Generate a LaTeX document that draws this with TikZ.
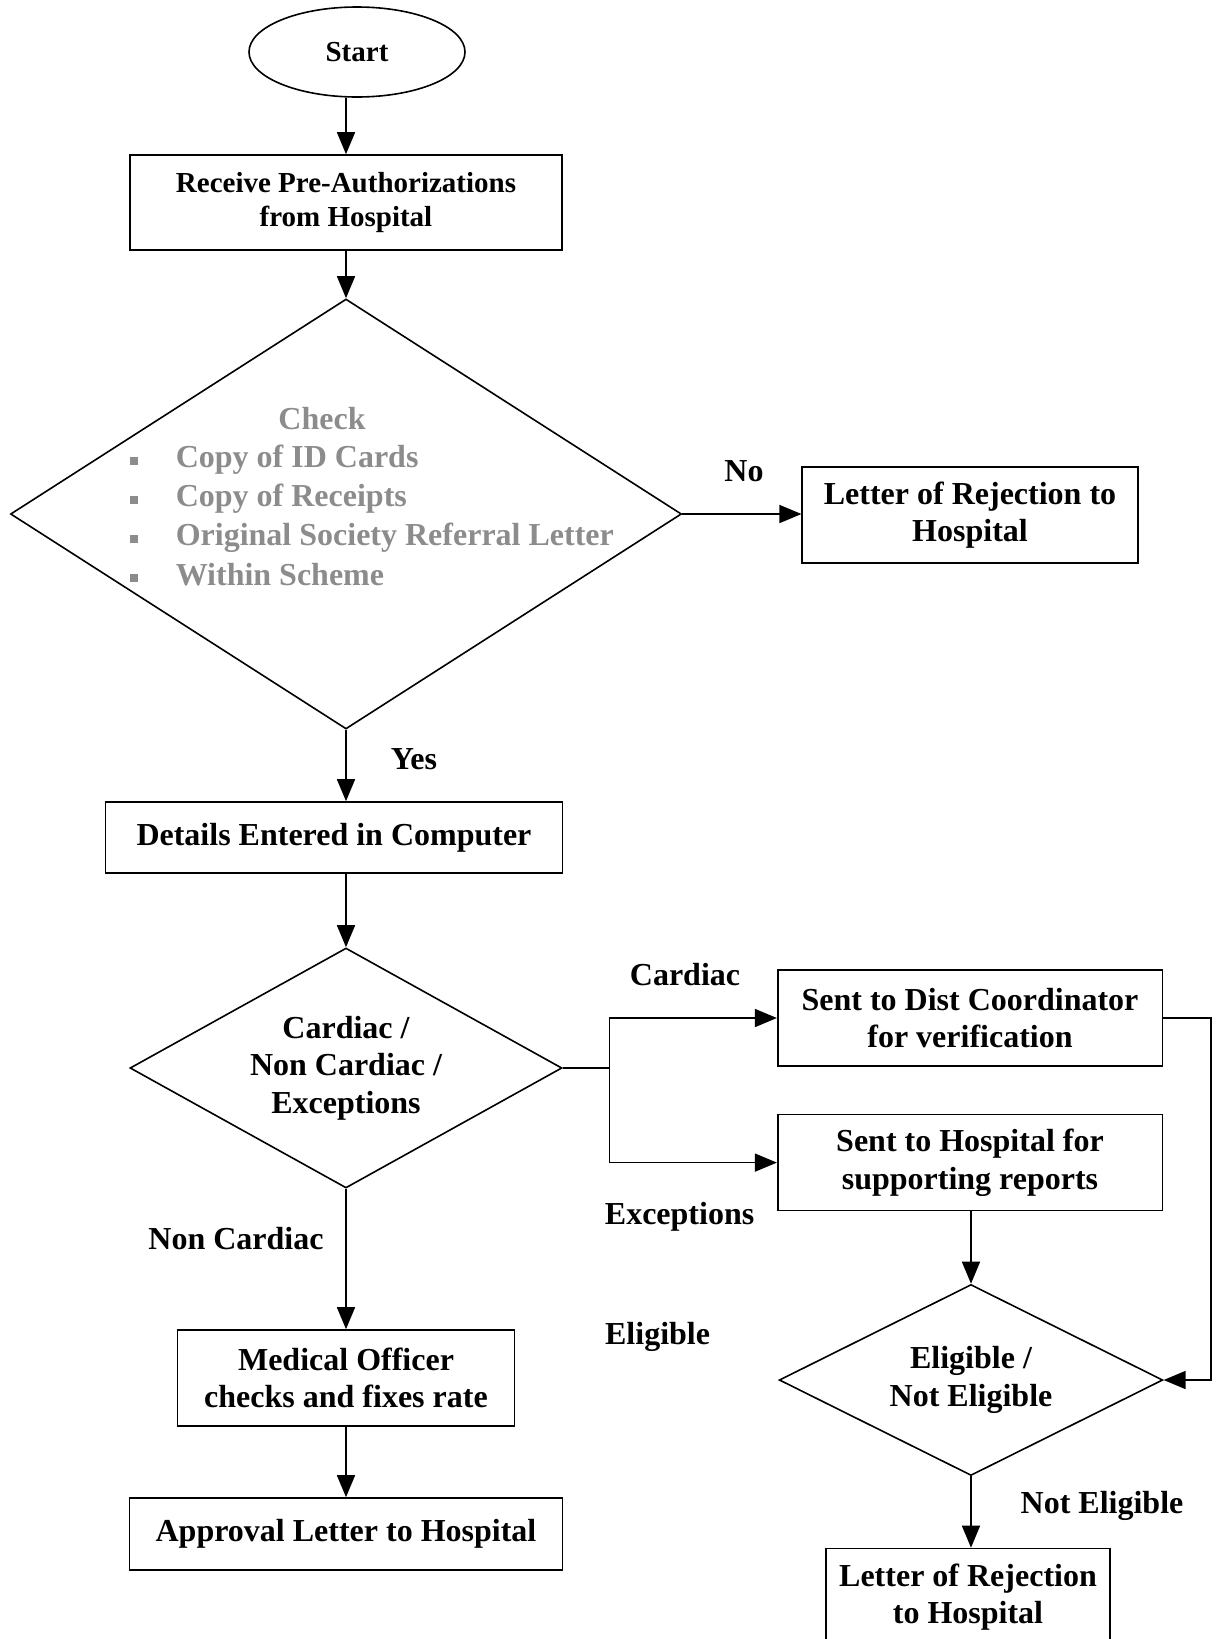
\documentclass[tikz,border=0pt]{standalone}
\usepackage{fontspec}
\setmainfont{Liberation Serif}
\usetikzlibrary{shapes.geometric, arrows.meta}

\begin{document}
\begin{tikzpicture}[
    x=0.5pt, y=-0.5pt,
    line width=0.8pt,
    font=\fontsize{16}{18.8}\selectfont\bfseries,
    block/.style={rectangle, draw, align=center, inner sep=0pt},
    decision/.style={diamond, draw, align=center, inner sep=0pt},
    terminal/.style={ellipse, draw, inner sep=0pt},
    small/.style={font=\fontsize{14.5}{17.3}\selectfont\bfseries},
    checktext/.style={inner sep=0pt, text=black!45, font=\fontsize{16}{19.6}\selectfont\bfseries},
    arrow/.style={-{Triangle[length=11pt, width=9pt]}},
    label/.style={inner sep=0pt}
]
\useasboundingbox (0,0) rectangle (1217,1639);
\clip (0,0) rectangle (1217,1639);

% Main column
\node[terminal, small, minimum width=108pt, minimum height=45pt] (start) at (357,52) {Start};
\node[block, small, minimum width=216pt, minimum height=47.5pt] (receive) at (346,202.5) {Receive Pre-Authorizations\\from Hospital};
\node[decision, aspect=1.56, minimum width=335.5pt, minimum height=215pt] (check) at (346,514) {};
\node[checktext] (checktitle) at (322,419) {Check};
\node[checktext, anchor=west] (checklist) at (129,518.5) {%
  \begin{tabular}{@{}l@{\hspace{19pt}}l@{}}
  \rule[1.5pt]{4pt}{4pt} & Copy of ID Cards\\
  \rule[1.5pt]{4pt}{4pt} & Copy of Receipts\\
  \rule[1.5pt]{4pt}{4pt} & Original Society Referral Letter\\
  \rule[1.5pt]{4pt}{4pt} & Within Scheme
  \end{tabular}};
\node[block, minimum width=167.75pt, minimum height=48.25pt] (reject) at (970,515) {Letter of Rejection to\\Hospital};
\node[block, minimum width=228.5pt, minimum height=35.5pt] (details) at (334,837.5) {Details Entered in Computer};
\node[decision, aspect=1.8, minimum width=216pt, minimum height=120pt] (type) at (346,1068) {Cardiac /\\Non Cardiac /\\Exceptions};
\node[block, minimum width=168.4pt, minimum height=48pt] (medical) at (346,1378) {Medical Officer\\checks and fixes rate};
\node[block, minimum width=216.5pt, minimum height=36pt] (approval) at (346,1534) {Approval Letter to Hospital};

% Right column
\node[block, minimum width=192.3pt, minimum height=48pt] (dist) at (970,1018) {Sent to Dist Coordinator\\for verification};
\node[block, minimum width=192.3pt, minimum height=48pt] (support) at (970,1162.6) {Sent to Hospital for\\supporting reports};
\node[decision, aspect=2, minimum width=191.8pt, minimum height=95.5pt] (elig) at (971,1380) {Eligible /\\Not Eligible};
\node[block, minimum width=142pt, minimum height=48.5pt] (reject2) at (968,1597) {Letter of Rejection\\to Hospital};

\coordinate (split) at (609.5,1068);
\coordinate (loop) at (1211,1018);

% Arrows
\draw[arrow] (start.south -| receive.north) -- (receive.north);
\draw[arrow] (receive.south) -- (check.north);
\draw[arrow] (check.east) -- (check.east -| reject.west);
\draw[arrow] (check.south) -- (check.south |- details.north);
\draw[arrow] (details.south -| type.north) -- (type.north);
\draw (type.east) -- (split);
\draw[arrow] (split) |- (dist.west);
\draw[arrow] (split) |- (support.west);
\draw[arrow] (dist.east) -- (loop) |- (elig.east);
\draw[arrow] (support.south -| elig.north) -- (elig.north);
\draw[arrow] (elig.south) -- (elig.south |- reject2.north);
\draw[arrow] (type.south) -- (medical.north);
\draw[arrow] (medical.south) -- (approval.north);

% Labels
\node[label] (nolbl) at (744,471.5) {No};
\node[label] (yeslbl) at (414,759) {Yes};
\node[label] (cardlbl) at (685,974.5) {Cardiac};
\node[label] (exclbl) at (679.6,1217) {Exceptions};
\node[label] (noncardlbl) at (236,1239) {Non Cardiac};
\node[label] (eliglbl) at (657.6,1337) {Eligible};
\node[label] (notelig) at (1102,1505.5) {Not Eligible};

\end{tikzpicture}
\end{document}
